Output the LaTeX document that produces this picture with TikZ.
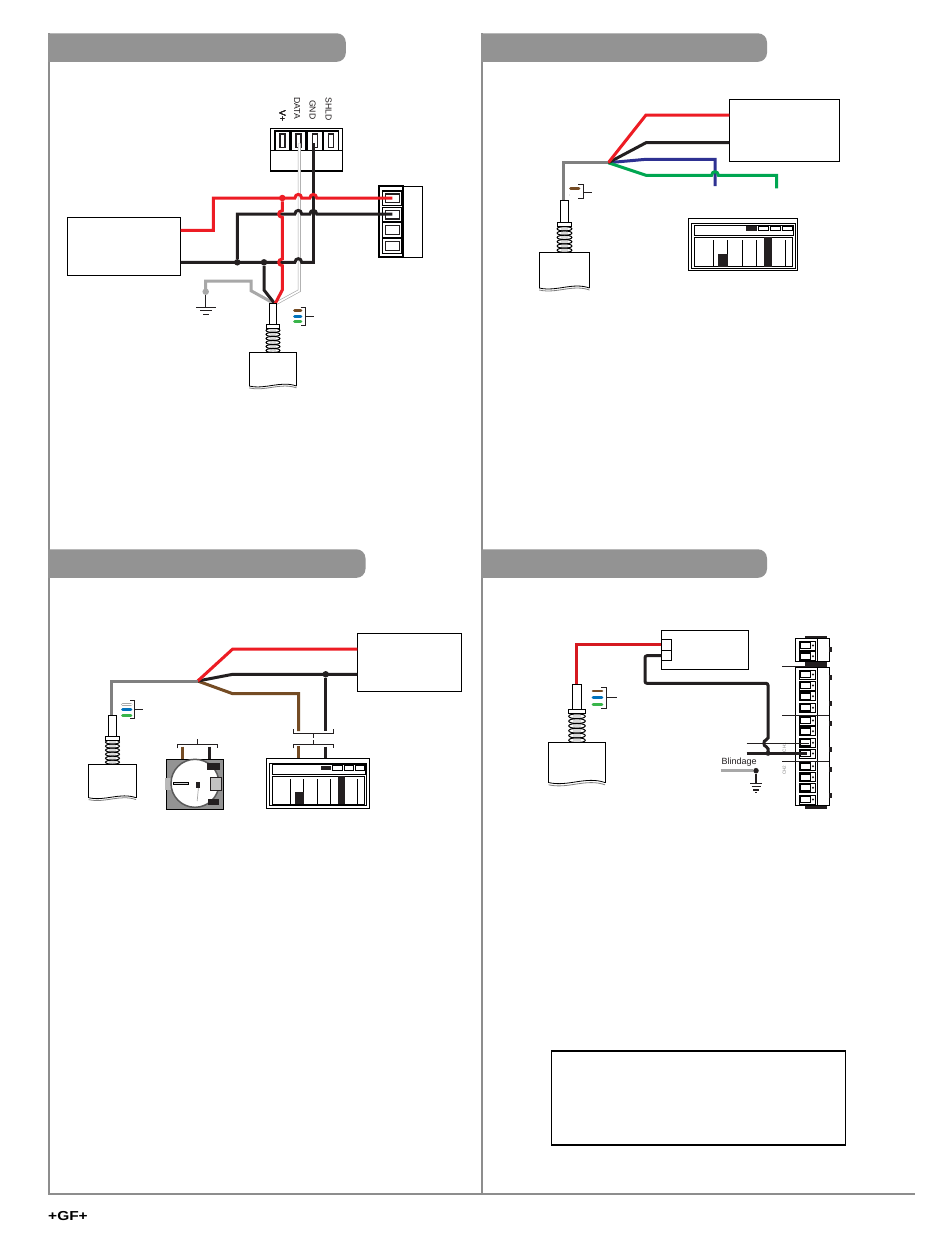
\documentclass[tikz,border=0pt]{standalone}
\usepackage{fontspec}
\setmainfont{Liberation Sans}
\definecolor{wireRed}{HTML}{ED1C24}
\definecolor{wireBlack}{HTML}{231F20}
\definecolor{wireGray}{HTML}{808080}
\definecolor{wireLight}{HTML}{A8A8A8}
\definecolor{wireBrown}{HTML}{754C24}
\definecolor{wireBlue}{HTML}{2E3192}
\definecolor{wireGreen}{HTML}{00A651}
\definecolor{tagBlue}{HTML}{0072BC}
\definecolor{tagGreen}{HTML}{39B54A}
\definecolor{barGray}{HTML}{939393}
\tikzset{
	wire/.style={line width=3pt, line join=miter},
	tag/.style={line width=2.6pt, line cap=round},
	lead/.style={line width=0.9pt, wireBlack},
	devbox/.style={draw=black, line width=1.1pt, fill=white, inner sep=0pt, outer sep=0pt},
	headbar/.style={fill=barGray},
	frameline/.style={draw=wireGray!90!white},
	jdot/.style={circle, fill=#1, inner sep=0pt, minimum size=6.5pt},
	pinlabel/.style={font=\fontsize{8.7}{8.7}\selectfont, rotate=-90, anchor=west, text=wireBlack, inner sep=0pt}
}
% hops over a crossing wire
\newcommand{\hopup}[2]{-- (#1-3.4,#2) .. controls (#1-3,#2-4.8) and (#1+3,#2-4.8) .. (#1+3.4,#2)}
\newcommand{\hopleft}[2]{-- (#1,#2-3.4) .. controls (#1-4.8,#2-3) and (#1-4.8,#2+3) .. (#1,#2+3.4)}
% sensor: axis x, top of tube y, scale
\newcommand{\sensorunit}[3]{
	\begin{scope}[shift={(#1,#2)},scale=#3]
		\fill[wireLight!70!white] (-3.5,26) rectangle (3.5,52);
		\foreach \s in {28.8,33.1,37.4,41.7,46,50.2}
		\draw[line width=1pt, fill=white, fill opacity=0.4] (0,\s) ellipse [x radius=7.4, y radius=2.2];
		\draw[line width=1pt, fill=white] (-4.2,0) rectangle (4.2,22.7);
		\draw[line width=1pt, fill=white] (-7.2,22.7) rectangle (7.2,26.7);
		\fill[white] (-25.3,52.3) -- (25,52.3) -- (25,88) .. controls (8,82) and (-8,92) .. (-25.3,88) -- cycle;
		\draw[line width=0.9pt] (-25.3,88) -- (-25.3,52.3) -- (25,52.3) -- (25,88);
		\draw[line width=0.8pt] (-25.3,88) .. controls (-8,92) and (8,82) .. (25,88);
		\draw[line width=0.8pt, wireGray] (-25.3,90) .. controls (-8,94) and (8,84) .. (25,90);
	\end{scope}
}
% display: corner x, y, xscale, yscale
\newcommand{\displayunit}[4]{
	\begin{scope}[shift={(#1,#2)},xscale=#3,yscale=#4,line width=1pt]
		\draw[line width=1.1pt, fill=white] (0,0) rectangle (109.4,52.4);
		\draw (3,5) rectangle (106.7,49.7);
		\draw (6,7) rectangle (105,17);
		\draw (6,19) rectangle (104.4,48.4);
		\fill[wireBlack] (57.7,7.7) rectangle (68.4,12.4);
		\foreach \u in {70.4,82.4,94.4}
		\draw[line width=0.9pt] (\u,7.7) rectangle (\u+10,12.4);
		\foreach \u in {25,39,54,68,97}
		\draw (\u,21.7) -- (\u,48.4);
		\fill[wireBlack] (30,35.7) rectangle (39.4,48.4);
		\fill[wireBlack] (76,19) rectangle (83.4,48.4);
	\end{scope}
}
% cell of the screw terminal
\newcommand{\termcell}[5]{
	\draw[line width=1.1pt] (#1,#2) rectangle (#3,#4);
	\draw[line width=1.2pt, wireBlack] (#1+#5,#2+3) rectangle (#3-#5,#4-3);
}
\newcommand{\stripcell}[1]{
	\draw[line width=1pt, fill=white] (799.3,#1) rectangle (815,#1+9);
	\draw[line width=1.3pt] (800.5,#1+1.2) rectangle (810.5,#1+7.8);
	\fill[wireBlack] (813,#1+4.5) circle (1.1pt);
}
\begin{document}
\begin{tikzpicture}[x=1pt,y=-1pt]
	\useasboundingbox (0,0) rectangle (950,1237);
	\fill[white] (0,0) rectangle (950,1237);
	
	% page frame and title bars
	\draw[frameline, line width=2pt] (49,33) -- (49,1194);
	\draw[frameline, line width=1.8pt] (481.7,33) -- (481.7,1194);
	\draw[frameline, line width=2.5pt] (48,1194) -- (915,1194);
	\fill[headbar] (48,33.3) {[rounded corners=9pt] -- (345.8,33.3) -- (345.8,61.8)} -- (48,61.8) -- cycle;
	\fill[headbar] (481,33.3) {[rounded corners=9pt] -- (767,33.3) -- (767,61.8)} -- (481,61.8) -- cycle;
	\fill[headbar] (48,549.3) {[rounded corners=9pt] -- (365.5,549.3) -- (365.5,577.8)} -- (48,577.8) -- cycle;
	\fill[headbar] (481,549.3) {[rounded corners=9pt] -- (767,549.3) -- (767,577.8)} -- (481,577.8) -- cycle;
	\node[font=\bfseries\fontsize{13}{13}\selectfont, xscale=1.19, inner sep=0pt] (gflogo) at (68,1216) {+GF+};
	
	% ---- first wiring: instrument, analog input, network terminal
	\node[devbox, minimum width=113.4pt, minimum height=58pt] (hostA) at (124,246.3) {};
	\draw[line width=1.1pt] (270.7,128.3) rectangle (342.3,171);
	\draw[line width=1.5pt] (270.7,128.3) rectangle (342.3,150.7);
	\foreach \u in {275,291,307.3,323.3}
	\termcell{\u}{131}{\u+15}{150.7}{5}
	\node[pinlabel] (lblV) at (282.5,110) {V+};
	\node[pinlabel] (lblData) at (297,97) {DATA};
	\node[pinlabel] (lblGnd) at (312.7,100) {GND};
	\node[pinlabel] (lblShld) at (328.5,97) {SHLD};
	\draw[line width=1.1pt] (379.3,186.3) rectangle (422.3,257.3);
	\draw[line width=1.8pt] (379.3,186.3) rectangle (402.7,257.3);
	\termcell{382.7}{191}{401.7}{205.7}{2.5}
	\termcell{382.7}{207.3}{401.7}{222}{2.5}
	\termcell{382.7}{222.7}{401.7}{237.3}{2.5}
	\termcell{382.7}{238.7}{401.7}{253.3}{2.5}
	
	\coordinate (hostAred) at (180.7,230.3);
	\coordinate (hostAblk) at (180.7,262.3);
	\coordinate (termRed) at (392.3,198);
	\coordinate (termBlk) at (392.3,214);
	\coordinate (pinData) at (299.3,143.3);
	\coordinate (pinGnd) at (313.3,143.3);
	\coordinate (gndA) at (205.7,291.7);
	\coordinate (cableA) at (275,304);
	\node[jdot=wireRed] (redJoin) at (282.3,198) {};
	\node[jdot=wireBlack] (blkJoinA) at (237.3,262.3) {};
	\node[jdot=wireBlack] (blkJoinB) at (264,262.3) {};
	\node[jdot=wireLight] (gndDotA) at (gndA) {};
	
	\draw[wire, wireLight] (gndA) -- (205.7,281) -- (251,281) -- (251,290.7) -- (cableA);
	\draw[wire, wireLight, line width=3pt] (pinData) -- (299.3,290.7) -- (cableA);
	\draw[white, line width=1.7pt] (pinData) -- (299.3,290.7) -- (cableA);
	\draw[wire, wireBlack] (pinGnd) -- (313.3,262.3);
	\draw[wire, wireBlack] (blkJoinB) -- (264,290) -- (cableA);
	\draw[wire, wireBlack] (blkJoinA) -- (237.3,214) \hopup{298.3}{214} \hopup{313.3}{214} -- (termBlk);
	\draw[wire, wireBlack] (hostAblk) \hopup{298.3}{262.3} -- (314.8,262.3);
	\draw[wire, wireRed] (hostAred) -- (213.3,230.3) -- (213.3,198) \hopup{298.3}{198} \hopup{313.3}{198} -- (termRed);
	\draw[wire, wireRed] (redJoin) \hopleft{282.3}{214} \hopleft{282.3}{262.3} -- (282.3,290) -- (cableA);
	
	\draw[lead] (gndDotA) -- (205.7,307.3);
	\draw[lead] (196,307.3) -- (216,307.3);
	\draw[lead] (200,310.7) -- (211.5,310.7);
	\draw[lead] (203,314) -- (209,314);
	\sensorunit{273}{303.3}{0.94}
	\draw[tag, wireBrown] (294.5,310.3) -- (301,310.3);
	\draw[tag, tagBlue] (294.5,316.3) -- (301,316.3);
	\draw[tag, tagGreen] (294.5,321.7) -- (301,321.7);
	\draw[lead] (300.7,307.3) -- (305.7,307.3) -- (305.7,325) -- (300.7,325);
	\draw[lead] (305.7,316.3) -- (314,316.3);
	
	% ---- second wiring: instrument, sensor, display
	\node[devbox, minimum width=110pt, minimum height=62pt] (hostB) at (784.3,130.3) {};
	\coordinate (fanB) at (608.3,162.7);
	\coordinate (hostBred) at (729.3,115);
	\coordinate (hostBblk) at (729.3,142.7);
	\coordinate (endBlue) at (715,186);
	\coordinate (endGreen) at (776.7,188.3);
	\draw[wire, wireBlue] (fanB) -- (646,159.3) -- (715,159.3) -- (endBlue);
	\draw[wire, wireGreen] (fanB) -- (646,175.3) \hopup{715}{175.3} -- (776.7,175.3) -- (endGreen);
	\draw[wire, wireBlack] (fanB) -- (646,142.7) -- (hostBblk);
	\draw[wire, wireRed] (fanB) -- (646,115) -- (hostBred);
	\draw[wire, wireGray] (fanB) -- (563.3,162.7) -- (563.3,200);
	\sensorunit{564.5}{200}{1}
	\draw[tag, wireBrown] (570.5,188.7) -- (579,188.7);
	\draw[tag, wireLight] (570.5,195) -- (579,195);
	\draw[white, line width=1.6pt] (570,195) -- (579.5,195);
	\draw[lead] (578.3,184.3) -- (583.3,184.3) -- (583.3,198.3) -- (578.3,198.3);
	\draw[lead] (583.3,192.3) -- (591.7,192.3);
	\displayunit{688.3}{218.3}{1}{1}
	
	% ---- third wiring: instrument, potentiometer, display
	\node[devbox, minimum width=104.4pt, minimum height=58.4pt] (hostC) at (409.5,662.5) {};
	\coordinate (fanC) at (197.7,681);
	\coordinate (hostCred) at (357.3,649);
	\coordinate (hostCblk) at (357.3,674.3);
	\coordinate (endBrown) at (298.7,731);
	\coordinate (endBlack) at (325.7,731);
	\node[jdot=wireBlack] (blkJoinC) at (325.7,674.3) {};
	\draw[wire, wireBrown] (fanC) -- (232.7,693.7) -- (298.7,693.7) -- (endBrown);
	\draw[wire, wireBlack] (blkJoinC) -- (endBlack);
	\draw[wire, wireBlack] (fanC) -- (232.7,674.3) -- (hostCblk);
	\draw[wire, wireRed] (fanC) -- (232.7,649) -- (hostCred);
	\draw[wire, wireGray] (fanC) -- (111.7,681) -- (111.7,715);
	\sensorunit{112.5}{715}{0.94}
	\draw[tag, wireLight] (122.5,704.3) -- (131,704.3);
	\draw[white, line width=1.6pt] (122,704.3) -- (131.5,704.3);
	\draw[tag, tagBlue] (122.5,709.3) -- (131,709.3);
	\draw[tag, tagGreen] (122.5,715.3) -- (131,715.3);
	\draw[lead] (130,700.3) -- (134.3,700.3) -- (134.3,718.3) -- (130,718.3);
	\draw[lead] (134.3,709.3) -- (142.7,709.3);
	% brackets over the pot and the display
	\draw[lead] (293.3,729) -- (293.3,733.3) -- (333.3,733.3) -- (333.3,729);
	\draw[lead] (313.3,733.3) -- (313.3,737.7);
	\draw[lead] (293.3,748.3) -- (293.3,744) -- (333.3,744) -- (333.3,748.3);
	\draw[lead] (313.3,740) -- (313.3,744);
	\draw[lead] (177.3,748.3) -- (177.3,744) -- (217.3,744) -- (217.3,748.3);
	\draw[lead] (197.3,739) -- (197.3,744);
	\draw[wire, wireBrown] (298.3,746) -- (298.3,759);
	\draw[wire, wireBlack] (325.3,746.7) -- (325.3,760);
	\draw[wire, wireBrown] (182.3,746.7) -- (182.3,759);
	\draw[wire, wireBlack] (209.3,746.7) -- (209.3,759);
	\displayunit{266.7}{758.3}{0.939}{0.954}
	% pot
	\draw[line width=1.1pt, fill=barGray] (166.7,759.3) rectangle (223.3,809.3);
	\fill[wireLight!80!white] (165,777.7) rectangle (171,790.3);
	\draw[line width=1.5pt, draw=wireGray!70!black, fill=white] (195,783.3) circle (24);
	\draw[line width=0.7pt, wireBlack, fill=wireLight!70!white] (210,777.7) rectangle (221.7,790.3);
	\fill[wireBlack] (207.3,763) rectangle (220,769.7);
	\fill[wireBlack] (208,798.7) rectangle (218.7,805.3);
	\draw[line width=0.8pt, fill=wireLight!50!white] (173.3,782) rectangle (188.7,784.7);
	\draw[line width=0.7pt, wireLight] (198.4,788) -- (197.2,801);
	\fill[wireBlack] (196,782) rectangle (200,788);
	
	% ---- fourth wiring: sensor and terminal strip
	\node[devbox, minimum width=87.4pt, minimum height=39.3pt] (hostD) at (705,649.7) {};
	\draw[line width=1pt] (661.3,639.3) rectangle (671.7,650);
	\draw[line width=1pt] (661.3,650.7) rectangle (671.7,660.7);
	\coordinate (hostDred) at (661.3,644);
	\coordinate (hostDblk) at (661.3,655.7);
	\coordinate (pinCh) at (807.3,753.3);
	\coordinate (pinThin) at (809.3,743.3);
	% strip
	\draw[line width=1pt] (795,638.3) rectangle (829.3,661.7);
	\draw (816.7,638.3) -- (816.7,661.7);
	\fill[wireBlack] (805,635.7) rectangle (826.7,638.3);
	\fill[wireBlack] (805,662.3) rectangle (826.7,666.7);
	\draw[line width=1pt] (795,667.3) rectangle (829.3,805.7);
	\draw (816.7,667.3) -- (816.7,805.7);
	\fill[wireBlack] (805,805.7) rectangle (826.7,808.7);
	\foreach \u in {641,651.7,670,681,691.7,703.3,716,726.7,738.3,749,761.7,772.7,783.3,795}
	\stripcell{\u}
	\foreach \u in {646.7,675,701,721,747,766.7,793.3}
	\fill[wireBlack] (829.3,\u) rectangle (831.5,\u+5);
	\draw[lead] (782.3,666.3) -- (805,666.3);
	\draw[lead] (782.3,715) -- (829.3,715);
	\draw[lead] (782.3,761) -- (829.3,761);
	\node[font=\fontsize{4.5}{4.5}\selectfont, rotate=90, text=wireGray, inner sep=0pt] (lblCh1) at (784.3,747.7) {CH1};
	\node[font=\fontsize{4.5}{4.5}\selectfont, rotate=90, text=wireGray, inner sep=0pt] (lblCh2) at (784.3,770) {CH2};
	\draw[wire, wireBlack, rounded corners=2pt] (hostDblk) -- (645,655.7) -- (645,683.3) -- (768,683.3) \hopleft{768}{743.3} -- (768,753.3);
	\draw[line width=1pt, wireBlack] (746.7,743.3) -- (pinThin);
	\draw[line width=3pt, wireBlack] (746.7,753.3) -- (pinCh);
	\node[jdot=wireBlack, minimum size=5pt] (blkJoinD) at (768,753.3) {};
	\draw[wire, wireRed!90!black] (hostDred) -- (576.7,644) -- (576.7,684);
	\sensorunit{577}{684}{1.12}
	\draw[tag, wireBrown] (593,691) -- (602,691);
	\draw[tag, tagBlue] (593,697.3) -- (602,697.3);
	\draw[tag, tagGreen] (593,704.3) -- (602,704.3);
	\draw[lead] (601,687) -- (606.7,687) -- (606.7,708.3) -- (601,708.3);
	\draw[lead] (606.7,697.3) -- (616.7,697.3);
	
	\node[font=\fontsize{9}{9}\selectfont, anchor=west, inner sep=0pt, text=wireBlack] (lblShield) at (721.5,762.3) {Blindage};
	\node[jdot=wireBlack, minimum size=5.5pt] (gndDotD) at (756,770.7) {};
	\draw[wire, wireLight] (720.7,770.7) -- (gndDotD);
	\coordinate (gndD) at (756,783.3);
	\draw[line width=1.5pt, wireBlack] (gndDotD) -- (gndD);
	\draw[line width=1.2pt, wireBlack] (750,783.3) -- (762.3,783.3);
	\draw[line width=1.2pt, wireBlack] (751.7,786.7) -- (760.7,786.7);
	\draw[line width=1.2pt, wireBlack] (753.3,790) -- (759,790);
	\draw[line width=1pt, wireBlack] (755,792.5) -- (757.3,792.5);
	
	% empty note box
	\node[devbox, minimum width=293.5pt, minimum height=94pt] (noteBox) at (698.3,1098) {};
\end{tikzpicture}
\end{document}
